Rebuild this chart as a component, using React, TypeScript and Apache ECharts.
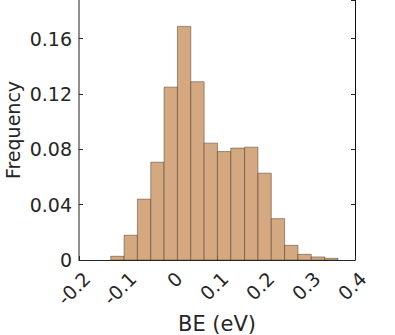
import React, { useEffect, useRef } from "react";
import * as echarts from "echarts";

const binLeft = [-0.131, -0.102, -0.073, -0.044, -0.015, 0.014, 0.043, 0.072, 0.101, 0.130, 0.160, 0.189, 0.218, 0.247, 0.276, 0.305, 0.334];
const binRight = [-0.102, -0.073, -0.044, -0.015, 0.014, 0.043, 0.072, 0.101, 0.130, 0.160, 0.189, 0.218, 0.247, 0.276, 0.305, 0.334, 0.363];
const frequency = [0.0027, 0.0179, 0.0440, 0.0707, 0.1250, 0.1689, 0.1289, 0.0845, 0.0784, 0.0809, 0.0816, 0.0628, 0.0299, 0.0106, 0.0041, 0.0022, 0.0012];
const xTitle = "BE (eV)";
const yTitle = "Frequency";

const FONT = "'DejaVu Sans', sans-serif";
const TXT = "#262626";

export default function App() {
  const ref = useRef<HTMLDivElement>(null);
  useEffect(() => {
    if (!ref.current) return;
    const chart = echarts.init(ref.current, undefined, { renderer: "svg" });
    const data = binLeft.map((l, i) => [l, binRight[i], frequency[i]]);
    chart.setOption({
      animation: false,
      grid: { left: 79, right: 40, top: 0, bottom: 75, containLabel: false, outerBoundsMode: "none" },
      xAxis: [
        {
          type: "value",
          min: -0.2,
          max: 0.4,
          interval: 0.1,
          name: xTitle,
          nameLocation: "middle",
          nameGap: 53,
          nameMoveOverlap: false,
          nameTextStyle: { fontFamily: FONT, fontSize: 21, color: TXT },
          axisLine: { show: true, onZero: false, lineStyle: { color: TXT, width: 1 } },
          axisTick: { show: true, inside: true, length: 4, lineStyle: { color: TXT } },
          splitLine: { show: false },
          axisLabel: { rotate: 45, fontFamily: FONT, fontSize: 19, color: TXT, margin: 23, padding: [0, -11, 0, 0] },
        },
      ],
      yAxis: [
        {
          type: "value",
          min: 0,
          max: 0.188,
          interval: 0.04,
          name: yTitle,
          nameLocation: "middle",
          nameGap: 57,
          nameMoveOverlap: false,
          nameTextStyle: { fontFamily: FONT, fontSize: 19, color: TXT },
          axisLine: { show: true, onZero: false, lineStyle: { color: "#6a6a6a", width: 1.5 } },
          axisTick: { show: true, inside: true, length: 4, lineStyle: { color: TXT } },
          splitLine: { show: false },
          axisLabel: { fontFamily: FONT, fontSize: 19, color: TXT, margin: 7, showMaxLabel: false },
        },
        {
          type: "value",
          position: "right",
          min: 0,
          max: 0.188,
          interval: 0.04,
          axisLine: { show: true, onZero: false, lineStyle: { color: "#111", width: 1 } },
          axisTick: { show: true, inside: true, length: 4, lineStyle: { color: TXT } },
          splitLine: { show: false },
          axisLabel: { show: false },
        },
      ],
      series: [
        {
          type: "custom",
          xAxisIndex: 0,
          yAxisIndex: 0,
          encode: { x: [0, 1], y: 2 },
          data,
          renderItem: (params: any, api: any) => {
            const p0 = api.coord([api.value(0), api.value(2)]);
            const p1 = api.coord([api.value(1), 0]);
            return {
              type: "rect",
              shape: { x: p0[0], y: p0[1], width: p1[0] - p0[0], height: p1[1] - p0[1] },
              style: { fill: "#D4A982", stroke: "rgba(60,40,20,0.45)", lineWidth: 1 },
            };
          },
        },
      ],
    });
    return () => chart.dispose();
  }, []);
  return <div ref={ref} style={{ width: 395, height: 335, position: "absolute", left: 0, top: 0 }} />;
}
